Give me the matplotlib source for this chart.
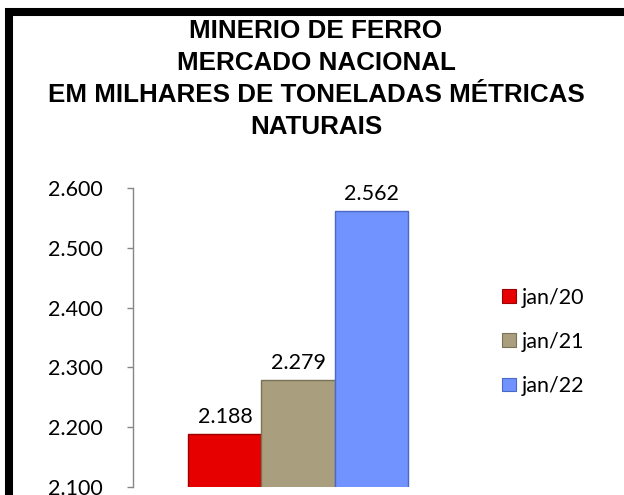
import matplotlib
matplotlib.use("Agg")
import matplotlib.pyplot as plt
from matplotlib.patches import Rectangle, Patch
from matplotlib.ticker import FuncFormatter

# dados do grafico
titulo = "MINERIO DE FERRO\nMERCADO NACIONAL\nEM MILHARES DE TONELADAS MÉTRICAS\nNATURAIS"
periodos = ["jan/20", "jan/21", "jan/22"]
valores = [2188, 2279, 2562]
cores = ["#E60000", "#A99F7F", "#7093FF"]
bordas = ["#9E0000", "#7A7256", "#4A69C4"]
y_ticks = [2100, 2200, 2300, 2400, 2500, 2600]


def milhar(v, pos=None):
    return f"{int(round(v)):,}".replace(",", ".")


fig = plt.figure(figsize=(6.24, 4.95), dpi=100)
ax = fig.add_axes([133 / 624, 8 / 495, 330 / 624, 299 / 495])

pos_x = [-1, 0, 1]
barras = ax.bar(pos_x, valores, width=1.0, color=cores, edgecolor=bordas, linewidth=1.0)
ax.bar_label(barras, labels=[milhar(v) for v in valores], padding=5,
             fontsize=15.5, family="Lato", color="black")

ax.set_ylim(2100, 2600)
ax.set_xlim(-2.26, 2.26)
ax.set_yticks(y_ticks)
ax.yaxis.set_major_formatter(FuncFormatter(milhar))
ax.set_xticks([])

for lado in ["top", "right", "bottom"]:
    ax.spines[lado].set_visible(False)
ax.spines["left"].set_color("#868686")
ax.spines["left"].set_linewidth(1.0)
ax.tick_params(axis="y", direction="out", length=4.5, width=1.0, color="#868686",
               pad=17, labelsize=15.5)
for t in ax.get_yticklabels():
    t.set_family("Lato")
ax.patch.set_visible(False)

handles = [Patch(facecolor=c, edgecolor=b, linewidth=0.8) for c, b in zip(cores, bordas)]
leg = ax.legend(handles, periodos, loc="center left", bbox_to_anchor=(1.06, 0.485),
                frameon=False, handlelength=0.62, handleheight=0.62, handletextpad=0.3,
                labelspacing=1.12, prop={"family": "Lato", "size": 15.5})

fig.text(316 / 624, 1 - 19 / 495, titulo, ha="center", va="top", fontsize=18.7,
         fontweight="bold", family="Liberation Sans", linespacing=1.42)

# moldura preta (cortada a direita e embaixo)
fig.patches.append(Rectangle((9 / 624, -0.5), 2.0, 0.5 + (495 - 11.5) / 495,
                             transform=fig.transFigure, fill=False,
                             edgecolor="black", linewidth=5.8))

fig.savefig("out.png", dpi=100)
